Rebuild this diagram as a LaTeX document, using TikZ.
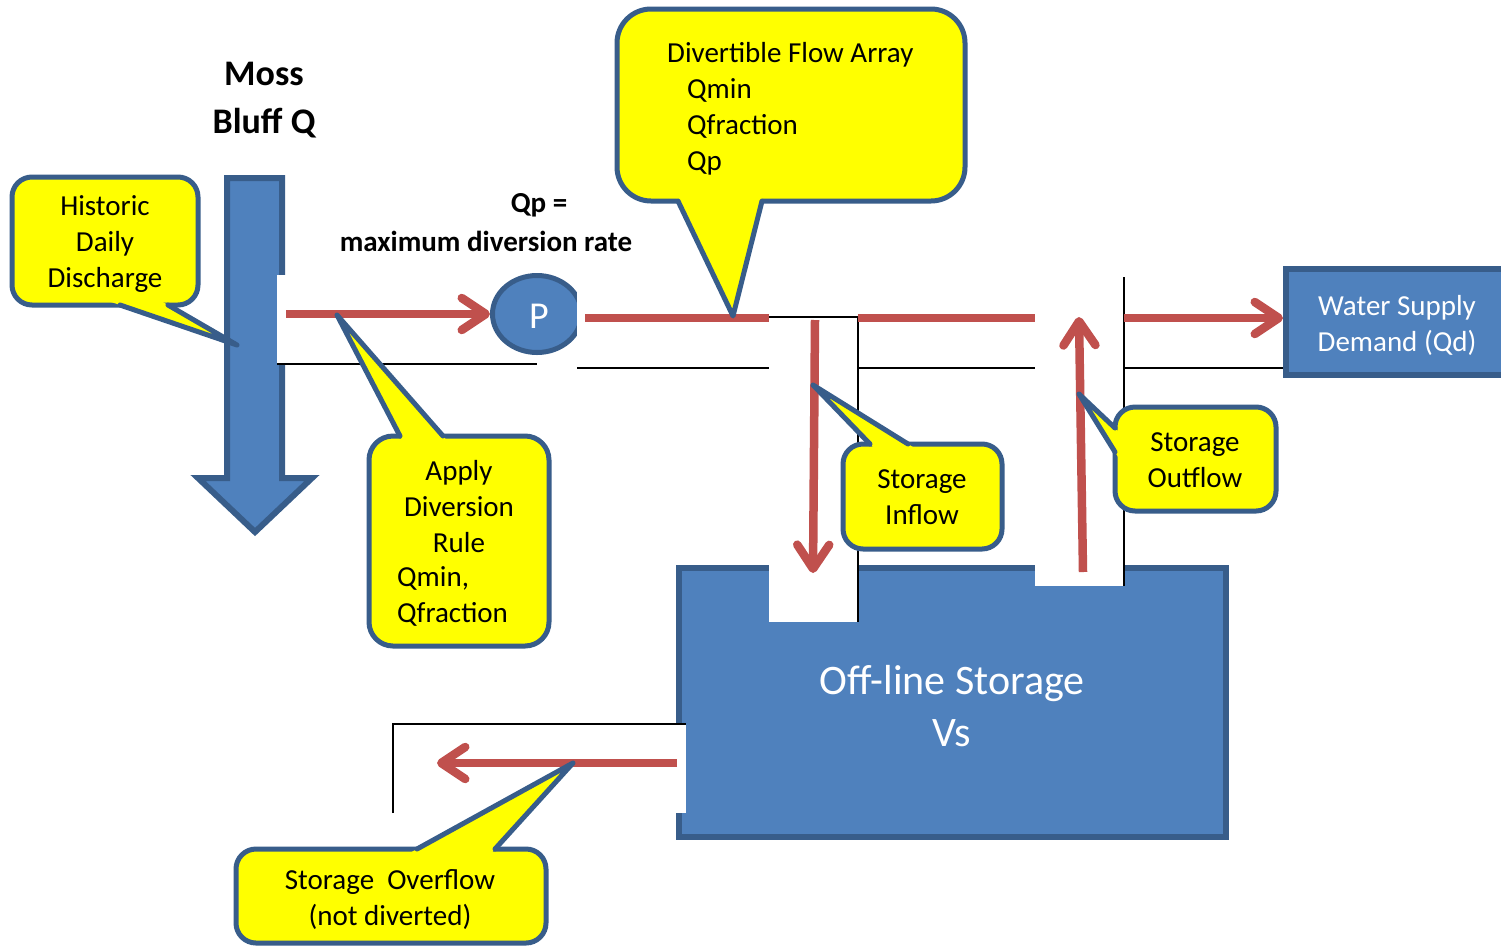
\documentclass[tikz,border=0pt]{standalone}
\usepackage{fontspec}
\setmainfont{Carlito}
\usetikzlibrary{arrows.meta,calc,shapes.geometric}
\definecolor{bfill}{HTML}{4F81BD}
\definecolor{bline}{HTML}{385D8A}
\definecolor{rline}{HTML}{C0504D}
\definecolor{yfill}{HTML}{FFFF00}
\tikzset{
  bluebody/.style={fill=bfill, draw=bline, line width=6pt},
  pipeedge/.style={draw=black, line width=1.3pt},
  flow/.style={draw=rline, line width=8.5pt},
  flowarrow/.style={flow, -{Straight Barb[length=24pt,width=32pt,line cap=round,line join=round]}},
  cbox/.style={fill=yfill, draw=bline, line width=5pt, rounded corners=#1},
  cbox/.default=20pt,
  cleg/.style={draw=bline, line width=5pt, line cap=round, line join=round},
  ctext/.style={font=\fontsize{29}{36}\selectfont, align=center, inner sep=0pt},
  wtext/.style={ctext, text=white},
  btext/.style={font=\fontsize{29}{38}\selectfont\bfseries, inner sep=0pt},
}
\newcommand\mycallout[6]{%
  \draw[cbox=#6] #1 rectangle #2;
  \fill[yfill] ($#3!-12pt!#4$) -- #4 -- ($#5!-12pt!#4$) -- cycle;
  \draw[cleg] #3 -- #4 -- #5;
}
\begin{document}
\begin{tikzpicture}[x=1pt,y=-1pt]
\useasboundingbox[fill=white] (0,0) rectangle (1501,946);

% river (Moss Bluff) arrow
\draw[bluebody, line join=miter] (227,178) -- (282,178) -- (282,478) -- (312,478) -- (255,532) -- (198,478) -- (227,478) -- cycle;

% off-line storage
\node[bluebody, rectangle, anchor=north west, minimum width=547pt, minimum height=269pt, inner sep=0pt] (storage) at (676,565) {};
% water supply demand
\node[bluebody, rectangle, anchor=north west, minimum width=234pt, minimum height=106pt, inner sep=0pt] (water) at (1283,266) {};

% pipe cut-outs
\fill[white] (277,275) rectangle (537,364);
\draw[pipeedge] (277,364) -- (537,364);

\node[ellipse, fill=bfill, draw=bline, line width=5pt, minimum width=89pt, minimum height=77pt, inner sep=0pt] (pump) at (537,314) {};

\fill[white] (577,268) rectangle (768,368);
\draw[pipeedge] (577,368) -- (769,368);

\fill[white] (769,312) rectangle (858,622);
\draw[pipeedge] (769,317) -- (858,317) -- (858,622);
\draw[pipeedge] (858,368) -- (1035,368);

\fill[white] (1035,277) rectangle (1124,586);
\draw[pipeedge] (1124,277) -- (1124,586);
\draw[pipeedge] (1124,368) -- (1283,368);

\fill[white] (393,724) rectangle (686,813);
\draw[pipeedge] (393,813) -- (393,724) -- (686,724);

% flows
\coordinate (riverout) at (286,314);
\coordinate (pumpout) at (585,318);
\coordinate (inflowtop) at (769,318);
\coordinate (mainmid) at (858,318);
\coordinate (mainend) at (1035,318);
\coordinate (demandstart) at (1124,318);
\coordinate (inflowstart) at (815,320);
\coordinate (inflowend) at (813,573);
\coordinate (outflowstart) at (1083,572);
\coordinate (outflowend) at (1079,317);
\coordinate (overflowstart) at (677,763);
\coordinate (overflowend) at (437,763);

\draw[flowarrow] (riverout) -- (pump.west);
\draw[flow] (pumpout) -- (inflowtop);
\draw[flow] (mainmid) -- (mainend);
\draw[flowarrow] (demandstart) -- (water.west |- demandstart);
\draw[flowarrow] (inflowstart) -- (inflowend);
\draw[flowarrow] (outflowstart) -- (outflowend);
\draw[flowarrow] (overflowstart) -- (overflowend);

% callouts
\mycallout{(12,177)}{(198,305)}{(120,305)}{(237,345)}{(168,305)}{20pt}
\mycallout{(369,436)}{(549,646)}{(400,436)}{(337,315)}{(443,436)}{24pt}
\mycallout{(617,9)}{(965,201)}{(678,201)}{(733,316)}{(762,201)}{34pt}
\mycallout{(843,444)}{(1002,549)}{(870,444)}{(813,385)}{(908,444)}{20pt}
\mycallout{(1115,407)}{(1276,511)}{(1115,428)}{(1079,394)}{(1115,452)}{20pt}
\mycallout{(236,849)}{(546,943)}{(417,849)}{(573,763)}{(495,849)}{20pt}

% texts
\node[font=\fontsize{38}{38}\selectfont, text=white, inner sep=0pt] (ptext) at (539,316) {P};
\node[font=\fontsize{36}{48}\selectfont\bfseries, align=center, inner sep=0pt] (moss) at (264,100) {Moss\\Bluff Q};
\node[btext] (qp) at (539,205) {Qp =};
\node[btext] (maxrate) at (486,241) {maximum diversion rate};
\node[ctext] (historic) at (105,244) {Historic\\Daily\\Discharge};
\node[ctext] (apply) at (459,507) {Apply\\Diversion\\Rule};
\node[ctext, align=left, anchor=west] (applyq) at (397,596) {Qmin,\\Qfraction};
\node[ctext, align=left, anchor=north west] (divert) at (667,42) {Divertible Flow Array\\\hspace*{20pt}Qmin\\\hspace*{20pt}Qfraction\\\hspace*{20pt}Qp};
\node[ctext] (inflow) at (922,497) {Storage\\Inflow};
\node[ctext] (outflow) at (1195,460) {Storage\\Outflow};
\node[ctext] (overflow) at (390,900) {Storage\ \ Overflow\\(not diverted)};
\node[wtext] (watertext) at (1397,325) {Water Supply\\Demand (Qd)};
\node[wtext, font=\fontsize{42}{52}\selectfont] (storagetext) at (952,706) {Off-line Storage\\Vs};
\end{tikzpicture}
\end{document}
